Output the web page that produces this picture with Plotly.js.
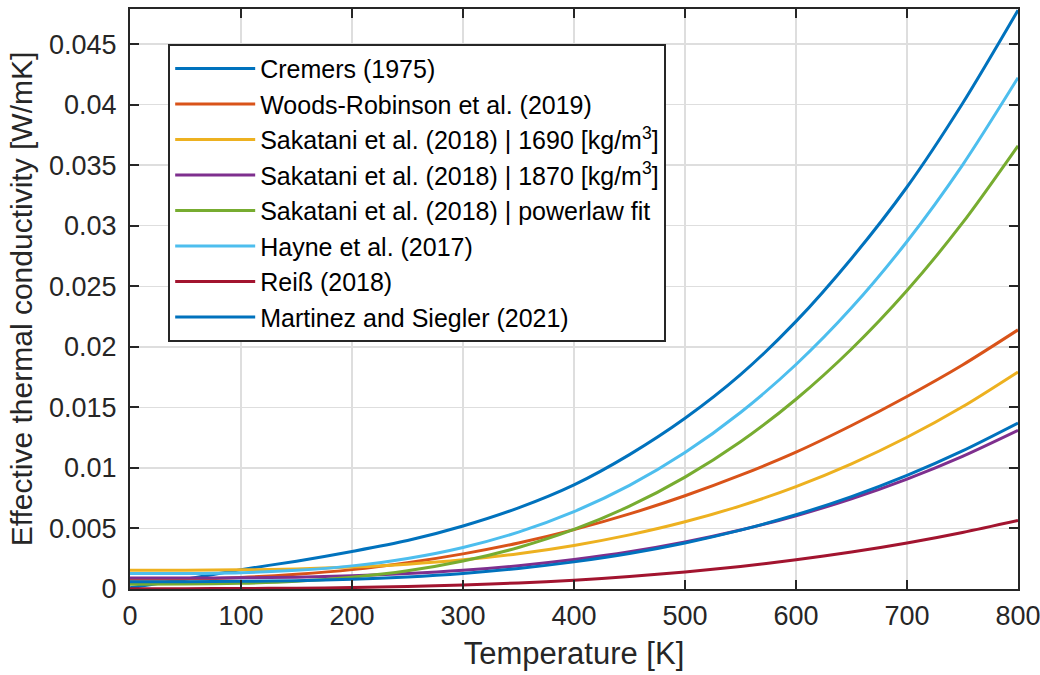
<!DOCTYPE html>
<html>
<head>
<meta charset="utf-8">
<script src="https://cdn.plot.ly/plotly-3.0.1.min.js"></script>
<style>html,body{margin:0;padding:0;background:#fff;}#chart{width:1040px;height:675px;}</style>
</head>
<body>
<div id="chart"></div>
<script>
// Temperature [K]
const T = [0, 50, 100, 150, 200, 250, 300, 350, 400, 450, 500, 550, 600, 650, 700, 750, 800];
// Effective thermal conductivity [W/mK]
const cremers  = [0.0001, 0.0008, 0.0016, 0.0023, 0.0031, 0.0040, 0.0052, 0.0067, 0.0086, 0.0111, 0.0141, 0.0177, 0.0221, 0.0273, 0.0332, 0.0401, 0.0478];
const woods    = [0.0008, 0.00083, 0.00096, 0.00122, 0.0016, 0.00217, 0.0029, 0.0038, 0.0049, 0.0062, 0.0077, 0.0094, 0.0113, 0.0135, 0.0159, 0.0185, 0.0214];
const sak1690  = [0.00155, 0.00155, 0.00158, 0.00166, 0.00181, 0.00205, 0.00241, 0.00292, 0.0036, 0.00447, 0.00555, 0.00687, 0.00846, 0.01034, 0.01253, 0.01505, 0.01793];
const sak1870  = [0.0009, 0.0009, 0.00092, 0.00098, 0.00109, 0.00127, 0.00154, 0.00192, 0.00243, 0.00307, 0.00388, 0.00487, 0.00605, 0.00745, 0.00908, 0.01096, 0.01311];
const sakPow   = [0.0004, 0.00041, 0.00047, 0.00064, 0.00097, 0.0015, 0.00231, 0.00343, 0.00492, 0.00684, 0.00924, 0.01216, 0.01567, 0.01982, 0.02465, 0.03023, 0.0366];
const hayne    = [0.00127, 0.00128, 0.00135, 0.00154, 0.00191, 0.00252, 0.00343, 0.0047, 0.00639, 0.00856, 0.01127, 0.01458, 0.01854, 0.02322, 0.0287, 0.03501, 0.04222];
const reiss    = [0.00003, 0.00003, 0.00004, 0.00007, 0.00012, 0.0002, 0.00033, 0.0005, 0.00073, 0.00103, 0.00141, 0.00186, 0.00241, 0.00305, 0.0038, 0.00467, 0.00566];
const martinez = [0.0006, 0.0006, 0.00063, 0.00069, 0.00081, 0.001, 0.00129, 0.0017, 0.00224, 0.00293, 0.0038, 0.00486, 0.00613, 0.00763, 0.00938, 0.0114, 0.0137];

const names = [
  'Cremers (1975)',
  'Woods-Robinson et al. (2019)',
  'Sakatani et al. (2018) | 1690 [kg/m<sup>3</sup>]',
  'Sakatani et al. (2018) | 1870 [kg/m<sup>3</sup>]',
  'Sakatani et al. (2018) | powerlaw fit',
  'Hayne et al. (2017)',
  'Reiß (2018)',
  'Martinez and Siegler (2021)'
];
const series = [cremers, woods, sak1690, sak1870, sakPow, hayne, reiss, martinez];
const colors = ['#0072BD', '#D95319', '#EDB120', '#7E2F8E', '#77AC30', '#4DBEEE', '#A2142F', '#0072BD'];

const traces = series.map((ys, i) => ({
  x: T, y: ys, name: names[i], type: 'scatter', mode: 'lines',
  line: {color: colors[i], width: 3, shape: 'spline', smoothing: 0.8}
}));

const axisCommon = {
  showline: true, linecolor: '#262626', linewidth: 2, mirror: 'allticks',
  ticks: 'inside', ticklen: 9, tickwidth: 2, tickcolor: '#262626',
  showgrid: true, gridcolor: '#dedede', gridwidth: 1.5, zeroline: false,
  tickfont: {family: 'Liberation Sans, Arial, sans-serif', size: 27, color: '#262626'}
};

const layout = {
  width: 1040, height: 675,
  margin: {l: 130, r: 22, t: 9, b: 86},
  paper_bgcolor: '#ffffff', plot_bgcolor: '#ffffff',
  font: {family: 'Liberation Sans, Arial, sans-serif', color: '#262626'},
  showlegend: true,
  xaxis: Object.assign({}, axisCommon, {
    range: [0, 800], dtick: 100, tick0: 0, ticklabeloverflow: 'allow', ticklabelstandoff: 2,
    title: {text: 'Temperature [K]', font: {size: 31, color: '#262626'}, standoff: 12}
  }),
  yaxis: Object.assign({}, axisCommon, {
    range: [0, 0.0479], dtick: 0.005, tick0: 0, ticklabelstandoff: 6,
    title: {text: 'Effective thermal conductivity [W/mK]', font: {size: 30, color: '#262626'}, standoff: 8}
  }),
  legend: {
    x: 0.043, y: 0.94, xanchor: 'left', yanchor: 'top',
    bgcolor: '#ffffff', bordercolor: '#262626', borderwidth: 2,
    font: {size: 25, color: '#000000'}, itemwidth: 80, tracegroupgap: 0
  }
};

Plotly.newPlot('chart', traces, layout, {displayModeBar: false, staticPlot: true});
</script>
</body>
</html>
